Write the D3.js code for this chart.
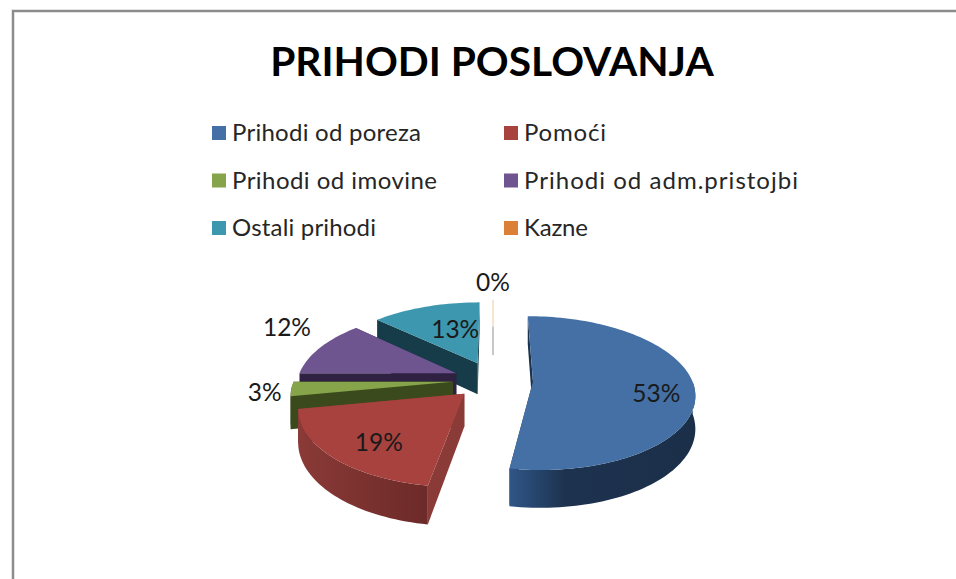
<!DOCTYPE html>
<html><head><meta charset="utf-8">
<script src="https://cdn.jsdelivr.net/npm/d3@7/dist/d3.min.js"></script>
<style>html,body{margin:0;padding:0;background:#fff;overflow:hidden}svg{display:block}text{font-family:Lato,"Open Sans",sans-serif}</style>
</head><body><svg id="c" width="956" height="579"></svg>
<script>
const title = "PRIHODI POSLOVANJA";
const categories = ["Prihodi od poreza","Pomoći","Prihodi od imovine","Prihodi od adm.pristojbi","Ostali prihodi","Kazne"];
const percents = [52.6,19.4,3,12,13,0];
const colors = ["#4470a6","#a8423f","#86a44a","#6f5590","#3d97af","#da8137"];
const wallColors = ["#1d324d","#8a3a37","#3a4a1c","#2e2142","#173c49","#8f8f8f"];
const wallShade = [[[0,"#2f5687"],[.3,"#1d324f"],[1,"#1b2f49"]],[[0,"#8a3a37"],[1,"#6c2a28"]],[[0,"#3a4a1c"],[1,"#3a4a1c"]],[[0,"#2e2142"],[1,"#2e2142"]],[[0,"#173c49"],[1,"#173c49"]],[[0,"#8f8f8f"],[1,"#8f8f8f"]]];
const legendWidths = [189,82,205,274,144,64];
const labelRadius = [0.76,0.66,1.15,1.14,0.40,1.15];
const labelNudge = [[1,8],[-2,9],[-2,3],[-15,-16],[0,-9],[0,-10]];
const drawOrder = [5,4,3,2,1,0];

const R=159, EXPL=40, CX=493, CY=380, K=0.47, P=0.15, H=32;
const svg=d3.select("#c");
const defs=svg.append("defs");
svg.append("path").attr("d","M13,579V11H956").attr("fill","none").attr("stroke","#8c8c8c").attr("stroke-width",2.5);
svg.append("text").attr("x",492).attr("y",76).attr("text-anchor","middle").attr("font-size",40.7).attr("font-weight",700).attr("fill","#000").text(title);

const colX=d3.scaleOrdinal().domain([0,1]).range([212,504]);
const rowY=d3.scalePoint().domain([0,1,2]).range([133,228]);
const lg=svg.append("g").selectAll("g").data(categories).join("g")
  .attr("transform",(d,i)=>`translate(${colX(i%2)},${rowY(Math.floor(i/2))})`);
lg.append("rect").attr("x",0).attr("y",-7).attr("width",14).attr("height",14).attr("fill",(d,i)=>colors[i]);
lg.append("text").attr("x",20).attr("y",8).attr("font-size",24).attr("fill","#262626")
  .attr("textLength",(d,i)=>legendWidths[i]).attr("lengthAdjust","spacing").text(d=>d);

const arcs=d3.pie().sort(null).value(d=>d)(percents);
function project(i,ang,r,h){
  const mid=(arcs[i].startAngle+arcs[i].endAngle)/2;
  const X=EXPL*Math.sin(mid)+r*Math.sin(ang);
  const D=EXPL*Math.cos(mid)+r*Math.cos(ang);
  const s=1/(1+P*D/R);
  return [CX+X*s, CY-D*K*s+h*s];
}
const line=d3.line();
const pieG=svg.append("g");
const angles=(a,b,n)=>d3.range(n+1).map(j=>a+(b-a)*j/n);
drawOrder.forEach(i=>{
  const a=arcs[i], g=pieG.append("g");
  const n=Math.max(2,Math.ceil((a.endAngle-a.startAngle)/0.03));
  const A=angles(a.startAngle,a.endAngle,n);
  if(percents[i]===0){
    const top=project(i,a.startAngle,R*1.03,0), midP=project(i,a.startAngle,R*0.55,0), bot=project(i,a.startAngle,R*0.55,H);
    g.append("path").attr("d",line([midP,bot])).attr("stroke",wallColors[i]).attr("stroke-width",1).attr("fill","none");
    g.append("path").attr("d",line([top,midP])).attr("stroke","#f0c8a0").attr("stroke-width",1).attr("fill","none");
    return;
  }
  [a.startAngle,a.endAngle].forEach(t=>{
    g.append("path").attr("d",line([project(i,0,0,0),project(i,t,R,0),project(i,t,R,H),project(i,0,0,H)])+"Z").attr("fill",wallColors[i]);
  });
  const fA=A.filter(t=>t>=Math.PI/2 && t<=3*Math.PI/2);
  if(fA.length>1){
    const pts=fA.map(t=>project(i,t,R,0)).concat(fA.slice().reverse().map(t=>project(i,t,R,H)));
    const ex=d3.extent(pts,p=>p[0]);
    const id="w"+i;
    const grad=defs.append("linearGradient").attr("id",id).attr("gradientUnits","userSpaceOnUse").attr("x1",ex[0]).attr("x2",ex[1]).attr("y1",0).attr("y2",0);
    wallShade[i].forEach(c=>grad.append("stop").attr("offset",c[0]).attr("stop-color",c[1]));
    g.append("path").attr("d",line(pts)+"Z").attr("fill",`url(#${id})`);
  }
  const topPts=[project(i,0,0,0)].concat(A.map(t=>project(i,t,R,0)));
  g.append("path").attr("d",line(topPts)+"Z").attr("fill",colors[i]);
});
svg.append("g").selectAll("text").data(arcs).join("text")
  .attr("text-anchor","middle").attr("font-size",24.5).attr("fill","#1a1a1a")
  .each(function(d,i){
    const mid=(d.startAngle+d.endAngle)/2;
    const p=project(i,mid,R*labelRadius[i],0);
    d3.select(this).attr("x",p[0]+labelNudge[i][0]).attr("y",p[1]+8+labelNudge[i][1]);
  }).text(d=>Math.round(d.data)+"%");
</script></body></html>
